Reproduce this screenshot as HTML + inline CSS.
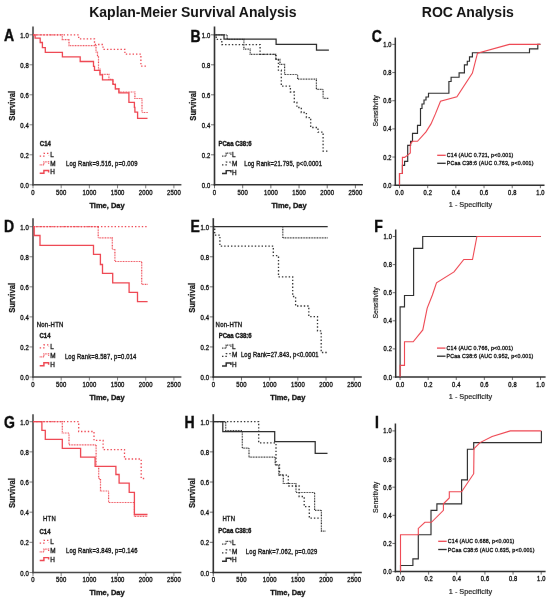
<!DOCTYPE html><html><head><meta charset="utf-8"><style>html,body{margin:0;padding:0;background:#fff;}svg{display:block;}text{font-family:"Liberation Sans", sans-serif;}</style></head><body>
<svg width="550" height="601" viewBox="0 0 550 601">
<defs><filter id="soft" x="0" y="0" width="550" height="601" filterUnits="userSpaceOnUse" color-interpolation-filters="sRGB"><feConvolveMatrix order="3" kernelMatrix="0.00027 0.01580 0.00027 0.01580 0.93575 0.01580 0.00027 0.01580 0.00027" edgeMode="duplicate" preserveAlpha="false"/></filter></defs>
<rect width="550" height="601" fill="#fff"/>
<g filter="url(#soft)">
<text transform="translate(192.80,11.90) scale(1,1.0)" x="0" y="5.01" font-size="14" font-weight="bold" text-anchor="middle" fill="#111" >Kaplan-Meier Survival Analysis</text>
<text transform="translate(467.80,12.20) scale(1,1.0)" x="0" y="5.01" font-size="14" font-weight="bold" text-anchor="middle" fill="#111" >ROC Analysis</text>
<text transform="translate(4.00,35.50) scale(1,1.14)" x="0" y="5.01" font-size="14" font-weight="bold" text-anchor="start" fill="#0a0a0a"  stroke="#0a0a0a" stroke-width="0.35">A</text>
<text transform="translate(190.40,35.90) scale(1,1.14)" x="0" y="5.01" font-size="14" font-weight="bold" text-anchor="start" fill="#0a0a0a"  stroke="#0a0a0a" stroke-width="0.35">B</text>
<text transform="translate(371.80,35.90) scale(1,1.14)" x="0" y="5.01" font-size="14" font-weight="bold" text-anchor="start" fill="#0a0a0a"  stroke="#0a0a0a" stroke-width="0.35">C</text>
<text transform="translate(4.00,226.40) scale(1,1.14)" x="0" y="5.01" font-size="14" font-weight="bold" text-anchor="start" fill="#0a0a0a"  stroke="#0a0a0a" stroke-width="0.35">D</text>
<text transform="translate(190.50,226.40) scale(1,1.14)" x="0" y="5.01" font-size="14" font-weight="bold" text-anchor="start" fill="#0a0a0a"  stroke="#0a0a0a" stroke-width="0.35">E</text>
<text transform="translate(374.20,226.40) scale(1,1.14)" x="0" y="5.01" font-size="14" font-weight="bold" text-anchor="start" fill="#0a0a0a"  stroke="#0a0a0a" stroke-width="0.35">F</text>
<text transform="translate(4.00,422.20) scale(1,1.14)" x="0" y="5.01" font-size="14" font-weight="bold" text-anchor="start" fill="#0a0a0a"  stroke="#0a0a0a" stroke-width="0.35">G</text>
<text transform="translate(184.40,421.90) scale(1,1.14)" x="0" y="5.01" font-size="14" font-weight="bold" text-anchor="start" fill="#0a0a0a"  stroke="#0a0a0a" stroke-width="0.35">H</text>
<text transform="translate(374.90,422.20) scale(1,1.14)" x="0" y="5.01" font-size="14" font-weight="bold" text-anchor="start" fill="#0a0a0a"  stroke="#0a0a0a" stroke-width="0.35">I</text>
<line x1="33.00" y1="26.50" x2="33.00" y2="185.55" stroke="#474747" stroke-width="1.6"/>
<line x1="32.20" y1="184.80" x2="181.40" y2="184.80" stroke="#474747" stroke-width="1.6"/>
<line x1="29.50" y1="184.80" x2="33.00" y2="184.80" stroke="#474747" stroke-width="0.7"/>
<text transform="translate(28.99,185.50) scale(1,1.1014448979591838)" x="0" y="2.13" font-size="5.936538461538461" font-weight="normal" text-anchor="end" fill="#111"  stroke="#111" stroke-width="0.3" letter-spacing="0.189">0.0</text>
<line x1="29.50" y1="154.80" x2="33.00" y2="154.80" stroke="#474747" stroke-width="0.7"/>
<text transform="translate(28.99,155.50) scale(1,1.1014448979591838)" x="0" y="2.13" font-size="5.936538461538461" font-weight="normal" text-anchor="end" fill="#111"  stroke="#111" stroke-width="0.3" letter-spacing="0.189">0.2</text>
<line x1="29.50" y1="124.80" x2="33.00" y2="124.80" stroke="#474747" stroke-width="0.7"/>
<text transform="translate(28.99,125.50) scale(1,1.1014448979591838)" x="0" y="2.13" font-size="5.936538461538461" font-weight="normal" text-anchor="end" fill="#111"  stroke="#111" stroke-width="0.3" letter-spacing="0.189">0.4</text>
<line x1="29.50" y1="94.80" x2="33.00" y2="94.80" stroke="#474747" stroke-width="0.7"/>
<text transform="translate(28.99,95.50) scale(1,1.1014448979591838)" x="0" y="2.13" font-size="5.936538461538461" font-weight="normal" text-anchor="end" fill="#111"  stroke="#111" stroke-width="0.3" letter-spacing="0.189">0.6</text>
<line x1="29.50" y1="64.80" x2="33.00" y2="64.80" stroke="#474747" stroke-width="0.7"/>
<text transform="translate(28.99,65.50) scale(1,1.1014448979591838)" x="0" y="2.13" font-size="5.936538461538461" font-weight="normal" text-anchor="end" fill="#111"  stroke="#111" stroke-width="0.3" letter-spacing="0.189">0.8</text>
<line x1="29.50" y1="34.80" x2="33.00" y2="34.80" stroke="#474747" stroke-width="0.7"/>
<text transform="translate(28.99,35.50) scale(1,1.1014448979591838)" x="0" y="2.13" font-size="5.936538461538461" font-weight="normal" text-anchor="end" fill="#111"  stroke="#111" stroke-width="0.3" letter-spacing="0.189">1.0</text>
<line x1="33.00" y1="184.80" x2="33.00" y2="188.30" stroke="#474747" stroke-width="0.7"/>
<text transform="translate(33.09,192.20) scale(1,1.1014448979591838)" x="0" y="2.13" font-size="5.936538461538461" font-weight="normal" text-anchor="middle" fill="#111"  stroke="#111" stroke-width="0.3" letter-spacing="0.189">0</text>
<line x1="61.18" y1="184.80" x2="61.18" y2="188.30" stroke="#474747" stroke-width="0.7"/>
<text transform="translate(61.27,192.20) scale(1,1.1014448979591838)" x="0" y="2.13" font-size="5.936538461538461" font-weight="normal" text-anchor="middle" fill="#111"  stroke="#111" stroke-width="0.3" letter-spacing="0.189">500</text>
<line x1="89.36" y1="184.80" x2="89.36" y2="188.30" stroke="#474747" stroke-width="0.7"/>
<text transform="translate(89.45,192.20) scale(1,1.1014448979591838)" x="0" y="2.13" font-size="5.936538461538461" font-weight="normal" text-anchor="middle" fill="#111"  stroke="#111" stroke-width="0.3" letter-spacing="0.189">1000</text>
<line x1="117.54" y1="184.80" x2="117.54" y2="188.30" stroke="#474747" stroke-width="0.7"/>
<text transform="translate(117.63,192.20) scale(1,1.1014448979591838)" x="0" y="2.13" font-size="5.936538461538461" font-weight="normal" text-anchor="middle" fill="#111"  stroke="#111" stroke-width="0.3" letter-spacing="0.189">1500</text>
<line x1="145.72" y1="184.80" x2="145.72" y2="188.30" stroke="#474747" stroke-width="0.7"/>
<text transform="translate(145.81,192.20) scale(1,1.1014448979591838)" x="0" y="2.13" font-size="5.936538461538461" font-weight="normal" text-anchor="middle" fill="#111"  stroke="#111" stroke-width="0.3" letter-spacing="0.189">2000</text>
<line x1="173.90" y1="184.80" x2="173.90" y2="188.30" stroke="#474747" stroke-width="0.7"/>
<text transform="translate(173.99,192.20) scale(1,1.1014448979591838)" x="0" y="2.13" font-size="5.936538461538461" font-weight="normal" text-anchor="middle" fill="#111"  stroke="#111" stroke-width="0.3" letter-spacing="0.189">2500</text>
<line x1="214.50" y1="26.50" x2="214.50" y2="185.55" stroke="#2e2e2e" stroke-width="1.6"/>
<line x1="213.70" y1="184.80" x2="363.00" y2="184.80" stroke="#2e2e2e" stroke-width="1.6"/>
<line x1="211.00" y1="184.80" x2="214.50" y2="184.80" stroke="#2e2e2e" stroke-width="0.7"/>
<text transform="translate(210.49,185.50) scale(1,1.1014448979591838)" x="0" y="2.13" font-size="5.936538461538461" font-weight="normal" text-anchor="end" fill="#111"  stroke="#111" stroke-width="0.3" letter-spacing="0.189">0.0</text>
<line x1="211.00" y1="154.80" x2="214.50" y2="154.80" stroke="#2e2e2e" stroke-width="0.7"/>
<text transform="translate(210.49,155.50) scale(1,1.1014448979591838)" x="0" y="2.13" font-size="5.936538461538461" font-weight="normal" text-anchor="end" fill="#111"  stroke="#111" stroke-width="0.3" letter-spacing="0.189">0.2</text>
<line x1="211.00" y1="124.80" x2="214.50" y2="124.80" stroke="#2e2e2e" stroke-width="0.7"/>
<text transform="translate(210.49,125.50) scale(1,1.1014448979591838)" x="0" y="2.13" font-size="5.936538461538461" font-weight="normal" text-anchor="end" fill="#111"  stroke="#111" stroke-width="0.3" letter-spacing="0.189">0.4</text>
<line x1="211.00" y1="94.80" x2="214.50" y2="94.80" stroke="#2e2e2e" stroke-width="0.7"/>
<text transform="translate(210.49,95.50) scale(1,1.1014448979591838)" x="0" y="2.13" font-size="5.936538461538461" font-weight="normal" text-anchor="end" fill="#111"  stroke="#111" stroke-width="0.3" letter-spacing="0.189">0.6</text>
<line x1="211.00" y1="64.80" x2="214.50" y2="64.80" stroke="#2e2e2e" stroke-width="0.7"/>
<text transform="translate(210.49,65.50) scale(1,1.1014448979591838)" x="0" y="2.13" font-size="5.936538461538461" font-weight="normal" text-anchor="end" fill="#111"  stroke="#111" stroke-width="0.3" letter-spacing="0.189">0.8</text>
<line x1="211.00" y1="34.80" x2="214.50" y2="34.80" stroke="#2e2e2e" stroke-width="0.7"/>
<text transform="translate(210.49,35.50) scale(1,1.1014448979591838)" x="0" y="2.13" font-size="5.936538461538461" font-weight="normal" text-anchor="end" fill="#111"  stroke="#111" stroke-width="0.3" letter-spacing="0.189">1.0</text>
<line x1="214.50" y1="184.80" x2="214.50" y2="188.30" stroke="#2e2e2e" stroke-width="0.7"/>
<text transform="translate(214.59,192.20) scale(1,1.1014448979591838)" x="0" y="2.13" font-size="5.936538461538461" font-weight="normal" text-anchor="middle" fill="#111"  stroke="#111" stroke-width="0.3" letter-spacing="0.189">0</text>
<line x1="242.68" y1="184.80" x2="242.68" y2="188.30" stroke="#2e2e2e" stroke-width="0.7"/>
<text transform="translate(242.77,192.20) scale(1,1.1014448979591838)" x="0" y="2.13" font-size="5.936538461538461" font-weight="normal" text-anchor="middle" fill="#111"  stroke="#111" stroke-width="0.3" letter-spacing="0.189">500</text>
<line x1="270.86" y1="184.80" x2="270.86" y2="188.30" stroke="#2e2e2e" stroke-width="0.7"/>
<text transform="translate(270.95,192.20) scale(1,1.1014448979591838)" x="0" y="2.13" font-size="5.936538461538461" font-weight="normal" text-anchor="middle" fill="#111"  stroke="#111" stroke-width="0.3" letter-spacing="0.189">1000</text>
<line x1="299.04" y1="184.80" x2="299.04" y2="188.30" stroke="#2e2e2e" stroke-width="0.7"/>
<text transform="translate(299.13,192.20) scale(1,1.1014448979591838)" x="0" y="2.13" font-size="5.936538461538461" font-weight="normal" text-anchor="middle" fill="#111"  stroke="#111" stroke-width="0.3" letter-spacing="0.189">1500</text>
<line x1="327.22" y1="184.80" x2="327.22" y2="188.30" stroke="#2e2e2e" stroke-width="0.7"/>
<text transform="translate(327.31,192.20) scale(1,1.1014448979591838)" x="0" y="2.13" font-size="5.936538461538461" font-weight="normal" text-anchor="middle" fill="#111"  stroke="#111" stroke-width="0.3" letter-spacing="0.189">2000</text>
<line x1="355.40" y1="184.80" x2="355.40" y2="188.30" stroke="#2e2e2e" stroke-width="0.7"/>
<text transform="translate(355.49,192.20) scale(1,1.1014448979591838)" x="0" y="2.13" font-size="5.936538461538461" font-weight="normal" text-anchor="middle" fill="#111"  stroke="#111" stroke-width="0.3" letter-spacing="0.189">2500</text>
<text transform="translate(12.20,105.80) rotate(-90) scale(1,1.15)" x="0" y="2.76" font-size="7.7" font-weight="bold" text-anchor="middle" fill="#111"  stroke="#111" stroke-width="0.2">Survival</text>
<text transform="translate(193.00,105.80) rotate(-90) scale(1,1.15)" x="0" y="2.76" font-size="7.7" font-weight="bold" text-anchor="middle" fill="#111"  stroke="#111" stroke-width="0.2">Survival</text>
<text transform="translate(107.00,204.80) scale(1,1.07)" x="0" y="2.69" font-size="7.5" font-weight="bold" text-anchor="middle" fill="#111"  stroke="#111" stroke-width="0.3">Time, Day</text>
<text transform="translate(289.00,204.80) scale(1,1.07)" x="0" y="2.69" font-size="7.5" font-weight="bold" text-anchor="middle" fill="#111"  stroke="#111" stroke-width="0.3">Time, Day</text>
<line x1="33.00" y1="218.20" x2="33.00" y2="377.75" stroke="#474747" stroke-width="1.6"/>
<line x1="32.20" y1="377.00" x2="181.40" y2="377.00" stroke="#474747" stroke-width="1.6"/>
<line x1="29.50" y1="377.00" x2="33.00" y2="377.00" stroke="#474747" stroke-width="0.7"/>
<text transform="translate(28.99,377.70) scale(1,1.1014448979591838)" x="0" y="2.13" font-size="5.936538461538461" font-weight="normal" text-anchor="end" fill="#111"  stroke="#111" stroke-width="0.3" letter-spacing="0.189">0.0</text>
<line x1="29.50" y1="346.94" x2="33.00" y2="346.94" stroke="#474747" stroke-width="0.7"/>
<text transform="translate(28.99,347.64) scale(1,1.1014448979591838)" x="0" y="2.13" font-size="5.936538461538461" font-weight="normal" text-anchor="end" fill="#111"  stroke="#111" stroke-width="0.3" letter-spacing="0.189">0.2</text>
<line x1="29.50" y1="316.88" x2="33.00" y2="316.88" stroke="#474747" stroke-width="0.7"/>
<text transform="translate(28.99,317.58) scale(1,1.1014448979591838)" x="0" y="2.13" font-size="5.936538461538461" font-weight="normal" text-anchor="end" fill="#111"  stroke="#111" stroke-width="0.3" letter-spacing="0.189">0.4</text>
<line x1="29.50" y1="286.82" x2="33.00" y2="286.82" stroke="#474747" stroke-width="0.7"/>
<text transform="translate(28.99,287.52) scale(1,1.1014448979591838)" x="0" y="2.13" font-size="5.936538461538461" font-weight="normal" text-anchor="end" fill="#111"  stroke="#111" stroke-width="0.3" letter-spacing="0.189">0.6</text>
<line x1="29.50" y1="256.76" x2="33.00" y2="256.76" stroke="#474747" stroke-width="0.7"/>
<text transform="translate(28.99,257.46) scale(1,1.1014448979591838)" x="0" y="2.13" font-size="5.936538461538461" font-weight="normal" text-anchor="end" fill="#111"  stroke="#111" stroke-width="0.3" letter-spacing="0.189">0.8</text>
<line x1="29.50" y1="226.70" x2="33.00" y2="226.70" stroke="#474747" stroke-width="0.7"/>
<text transform="translate(28.99,227.40) scale(1,1.1014448979591838)" x="0" y="2.13" font-size="5.936538461538461" font-weight="normal" text-anchor="end" fill="#111"  stroke="#111" stroke-width="0.3" letter-spacing="0.189">1.0</text>
<line x1="33.00" y1="377.00" x2="33.00" y2="380.50" stroke="#474747" stroke-width="0.7"/>
<text transform="translate(33.09,384.40) scale(1,1.1014448979591838)" x="0" y="2.13" font-size="5.936538461538461" font-weight="normal" text-anchor="middle" fill="#111"  stroke="#111" stroke-width="0.3" letter-spacing="0.189">0</text>
<line x1="61.18" y1="377.00" x2="61.18" y2="380.50" stroke="#474747" stroke-width="0.7"/>
<text transform="translate(61.27,384.40) scale(1,1.1014448979591838)" x="0" y="2.13" font-size="5.936538461538461" font-weight="normal" text-anchor="middle" fill="#111"  stroke="#111" stroke-width="0.3" letter-spacing="0.189">500</text>
<line x1="89.36" y1="377.00" x2="89.36" y2="380.50" stroke="#474747" stroke-width="0.7"/>
<text transform="translate(89.45,384.40) scale(1,1.1014448979591838)" x="0" y="2.13" font-size="5.936538461538461" font-weight="normal" text-anchor="middle" fill="#111"  stroke="#111" stroke-width="0.3" letter-spacing="0.189">1000</text>
<line x1="117.54" y1="377.00" x2="117.54" y2="380.50" stroke="#474747" stroke-width="0.7"/>
<text transform="translate(117.63,384.40) scale(1,1.1014448979591838)" x="0" y="2.13" font-size="5.936538461538461" font-weight="normal" text-anchor="middle" fill="#111"  stroke="#111" stroke-width="0.3" letter-spacing="0.189">1500</text>
<line x1="145.72" y1="377.00" x2="145.72" y2="380.50" stroke="#474747" stroke-width="0.7"/>
<text transform="translate(145.81,384.40) scale(1,1.1014448979591838)" x="0" y="2.13" font-size="5.936538461538461" font-weight="normal" text-anchor="middle" fill="#111"  stroke="#111" stroke-width="0.3" letter-spacing="0.189">2000</text>
<line x1="173.90" y1="377.00" x2="173.90" y2="380.50" stroke="#474747" stroke-width="0.7"/>
<text transform="translate(173.99,384.40) scale(1,1.1014448979591838)" x="0" y="2.13" font-size="5.936538461538461" font-weight="normal" text-anchor="middle" fill="#111"  stroke="#111" stroke-width="0.3" letter-spacing="0.189">2500</text>
<line x1="213.30" y1="218.20" x2="213.30" y2="377.75" stroke="#2e2e2e" stroke-width="1.6"/>
<line x1="212.50" y1="377.00" x2="361.80" y2="377.00" stroke="#2e2e2e" stroke-width="1.6"/>
<line x1="209.80" y1="377.00" x2="213.30" y2="377.00" stroke="#2e2e2e" stroke-width="0.7"/>
<text transform="translate(209.29,377.70) scale(1,1.1014448979591838)" x="0" y="2.13" font-size="5.936538461538461" font-weight="normal" text-anchor="end" fill="#111"  stroke="#111" stroke-width="0.3" letter-spacing="0.189">0.0</text>
<line x1="209.80" y1="346.94" x2="213.30" y2="346.94" stroke="#2e2e2e" stroke-width="0.7"/>
<text transform="translate(209.29,347.64) scale(1,1.1014448979591838)" x="0" y="2.13" font-size="5.936538461538461" font-weight="normal" text-anchor="end" fill="#111"  stroke="#111" stroke-width="0.3" letter-spacing="0.189">0.2</text>
<line x1="209.80" y1="316.88" x2="213.30" y2="316.88" stroke="#2e2e2e" stroke-width="0.7"/>
<text transform="translate(209.29,317.58) scale(1,1.1014448979591838)" x="0" y="2.13" font-size="5.936538461538461" font-weight="normal" text-anchor="end" fill="#111"  stroke="#111" stroke-width="0.3" letter-spacing="0.189">0.4</text>
<line x1="209.80" y1="286.82" x2="213.30" y2="286.82" stroke="#2e2e2e" stroke-width="0.7"/>
<text transform="translate(209.29,287.52) scale(1,1.1014448979591838)" x="0" y="2.13" font-size="5.936538461538461" font-weight="normal" text-anchor="end" fill="#111"  stroke="#111" stroke-width="0.3" letter-spacing="0.189">0.6</text>
<line x1="209.80" y1="256.76" x2="213.30" y2="256.76" stroke="#2e2e2e" stroke-width="0.7"/>
<text transform="translate(209.29,257.46) scale(1,1.1014448979591838)" x="0" y="2.13" font-size="5.936538461538461" font-weight="normal" text-anchor="end" fill="#111"  stroke="#111" stroke-width="0.3" letter-spacing="0.189">0.8</text>
<line x1="209.80" y1="226.70" x2="213.30" y2="226.70" stroke="#2e2e2e" stroke-width="0.7"/>
<text transform="translate(209.29,227.40) scale(1,1.1014448979591838)" x="0" y="2.13" font-size="5.936538461538461" font-weight="normal" text-anchor="end" fill="#111"  stroke="#111" stroke-width="0.3" letter-spacing="0.189">1.0</text>
<line x1="213.30" y1="377.00" x2="213.30" y2="380.50" stroke="#2e2e2e" stroke-width="0.7"/>
<text transform="translate(213.39,384.40) scale(1,1.1014448979591838)" x="0" y="2.13" font-size="5.936538461538461" font-weight="normal" text-anchor="middle" fill="#111"  stroke="#111" stroke-width="0.3" letter-spacing="0.189">0</text>
<line x1="241.48" y1="377.00" x2="241.48" y2="380.50" stroke="#2e2e2e" stroke-width="0.7"/>
<text transform="translate(241.57,384.40) scale(1,1.1014448979591838)" x="0" y="2.13" font-size="5.936538461538461" font-weight="normal" text-anchor="middle" fill="#111"  stroke="#111" stroke-width="0.3" letter-spacing="0.189">500</text>
<line x1="269.66" y1="377.00" x2="269.66" y2="380.50" stroke="#2e2e2e" stroke-width="0.7"/>
<text transform="translate(269.75,384.40) scale(1,1.1014448979591838)" x="0" y="2.13" font-size="5.936538461538461" font-weight="normal" text-anchor="middle" fill="#111"  stroke="#111" stroke-width="0.3" letter-spacing="0.189">1000</text>
<line x1="297.84" y1="377.00" x2="297.84" y2="380.50" stroke="#2e2e2e" stroke-width="0.7"/>
<text transform="translate(297.93,384.40) scale(1,1.1014448979591838)" x="0" y="2.13" font-size="5.936538461538461" font-weight="normal" text-anchor="middle" fill="#111"  stroke="#111" stroke-width="0.3" letter-spacing="0.189">1500</text>
<line x1="326.02" y1="377.00" x2="326.02" y2="380.50" stroke="#2e2e2e" stroke-width="0.7"/>
<text transform="translate(326.11,384.40) scale(1,1.1014448979591838)" x="0" y="2.13" font-size="5.936538461538461" font-weight="normal" text-anchor="middle" fill="#111"  stroke="#111" stroke-width="0.3" letter-spacing="0.189">2000</text>
<line x1="354.20" y1="377.00" x2="354.20" y2="380.50" stroke="#2e2e2e" stroke-width="0.7"/>
<text transform="translate(354.29,384.40) scale(1,1.1014448979591838)" x="0" y="2.13" font-size="5.936538461538461" font-weight="normal" text-anchor="middle" fill="#111"  stroke="#111" stroke-width="0.3" letter-spacing="0.189">2500</text>
<text transform="translate(12.20,297.85) rotate(-90) scale(1,1.15)" x="0" y="2.76" font-size="7.7" font-weight="bold" text-anchor="middle" fill="#111"  stroke="#111" stroke-width="0.2">Survival</text>
<text transform="translate(191.80,297.85) rotate(-90) scale(1,1.15)" x="0" y="2.76" font-size="7.7" font-weight="bold" text-anchor="middle" fill="#111"  stroke="#111" stroke-width="0.2">Survival</text>
<text transform="translate(107.00,397.00) scale(1,1.07)" x="0" y="2.69" font-size="7.5" font-weight="bold" text-anchor="middle" fill="#111"  stroke="#111" stroke-width="0.3">Time, Day</text>
<text transform="translate(287.80,397.00) scale(1,1.07)" x="0" y="2.69" font-size="7.5" font-weight="bold" text-anchor="middle" fill="#111"  stroke="#111" stroke-width="0.3">Time, Day</text>
<line x1="33.00" y1="414.20" x2="33.00" y2="573.25" stroke="#474747" stroke-width="1.6"/>
<line x1="32.20" y1="572.50" x2="181.40" y2="572.50" stroke="#474747" stroke-width="1.6"/>
<line x1="29.50" y1="572.50" x2="33.00" y2="572.50" stroke="#474747" stroke-width="0.7"/>
<text transform="translate(28.99,573.20) scale(1,1.1014448979591838)" x="0" y="2.13" font-size="5.936538461538461" font-weight="normal" text-anchor="end" fill="#111"  stroke="#111" stroke-width="0.3" letter-spacing="0.189">0.0</text>
<line x1="29.50" y1="542.34" x2="33.00" y2="542.34" stroke="#474747" stroke-width="0.7"/>
<text transform="translate(28.99,543.04) scale(1,1.1014448979591838)" x="0" y="2.13" font-size="5.936538461538461" font-weight="normal" text-anchor="end" fill="#111"  stroke="#111" stroke-width="0.3" letter-spacing="0.189">0.2</text>
<line x1="29.50" y1="512.18" x2="33.00" y2="512.18" stroke="#474747" stroke-width="0.7"/>
<text transform="translate(28.99,512.88) scale(1,1.1014448979591838)" x="0" y="2.13" font-size="5.936538461538461" font-weight="normal" text-anchor="end" fill="#111"  stroke="#111" stroke-width="0.3" letter-spacing="0.189">0.4</text>
<line x1="29.50" y1="482.02" x2="33.00" y2="482.02" stroke="#474747" stroke-width="0.7"/>
<text transform="translate(28.99,482.72) scale(1,1.1014448979591838)" x="0" y="2.13" font-size="5.936538461538461" font-weight="normal" text-anchor="end" fill="#111"  stroke="#111" stroke-width="0.3" letter-spacing="0.189">0.6</text>
<line x1="29.50" y1="451.86" x2="33.00" y2="451.86" stroke="#474747" stroke-width="0.7"/>
<text transform="translate(28.99,452.56) scale(1,1.1014448979591838)" x="0" y="2.13" font-size="5.936538461538461" font-weight="normal" text-anchor="end" fill="#111"  stroke="#111" stroke-width="0.3" letter-spacing="0.189">0.8</text>
<line x1="29.50" y1="421.70" x2="33.00" y2="421.70" stroke="#474747" stroke-width="0.7"/>
<text transform="translate(28.99,422.40) scale(1,1.1014448979591838)" x="0" y="2.13" font-size="5.936538461538461" font-weight="normal" text-anchor="end" fill="#111"  stroke="#111" stroke-width="0.3" letter-spacing="0.189">1.0</text>
<line x1="33.00" y1="572.50" x2="33.00" y2="576.00" stroke="#474747" stroke-width="0.7"/>
<text transform="translate(33.09,579.90) scale(1,1.1014448979591838)" x="0" y="2.13" font-size="5.936538461538461" font-weight="normal" text-anchor="middle" fill="#111"  stroke="#111" stroke-width="0.3" letter-spacing="0.189">0</text>
<line x1="61.18" y1="572.50" x2="61.18" y2="576.00" stroke="#474747" stroke-width="0.7"/>
<text transform="translate(61.27,579.90) scale(1,1.1014448979591838)" x="0" y="2.13" font-size="5.936538461538461" font-weight="normal" text-anchor="middle" fill="#111"  stroke="#111" stroke-width="0.3" letter-spacing="0.189">500</text>
<line x1="89.36" y1="572.50" x2="89.36" y2="576.00" stroke="#474747" stroke-width="0.7"/>
<text transform="translate(89.45,579.90) scale(1,1.1014448979591838)" x="0" y="2.13" font-size="5.936538461538461" font-weight="normal" text-anchor="middle" fill="#111"  stroke="#111" stroke-width="0.3" letter-spacing="0.189">1000</text>
<line x1="117.54" y1="572.50" x2="117.54" y2="576.00" stroke="#474747" stroke-width="0.7"/>
<text transform="translate(117.63,579.90) scale(1,1.1014448979591838)" x="0" y="2.13" font-size="5.936538461538461" font-weight="normal" text-anchor="middle" fill="#111"  stroke="#111" stroke-width="0.3" letter-spacing="0.189">1500</text>
<line x1="145.72" y1="572.50" x2="145.72" y2="576.00" stroke="#474747" stroke-width="0.7"/>
<text transform="translate(145.81,579.90) scale(1,1.1014448979591838)" x="0" y="2.13" font-size="5.936538461538461" font-weight="normal" text-anchor="middle" fill="#111"  stroke="#111" stroke-width="0.3" letter-spacing="0.189">2000</text>
<line x1="173.90" y1="572.50" x2="173.90" y2="576.00" stroke="#474747" stroke-width="0.7"/>
<text transform="translate(173.99,579.90) scale(1,1.1014448979591838)" x="0" y="2.13" font-size="5.936538461538461" font-weight="normal" text-anchor="middle" fill="#111"  stroke="#111" stroke-width="0.3" letter-spacing="0.189">2500</text>
<line x1="213.30" y1="414.20" x2="213.30" y2="573.25" stroke="#2e2e2e" stroke-width="1.6"/>
<line x1="212.50" y1="572.50" x2="361.80" y2="572.50" stroke="#2e2e2e" stroke-width="1.6"/>
<line x1="209.80" y1="572.50" x2="213.30" y2="572.50" stroke="#2e2e2e" stroke-width="0.7"/>
<text transform="translate(209.29,573.20) scale(1,1.1014448979591838)" x="0" y="2.13" font-size="5.936538461538461" font-weight="normal" text-anchor="end" fill="#111"  stroke="#111" stroke-width="0.3" letter-spacing="0.189">0.0</text>
<line x1="209.80" y1="542.34" x2="213.30" y2="542.34" stroke="#2e2e2e" stroke-width="0.7"/>
<text transform="translate(209.29,543.04) scale(1,1.1014448979591838)" x="0" y="2.13" font-size="5.936538461538461" font-weight="normal" text-anchor="end" fill="#111"  stroke="#111" stroke-width="0.3" letter-spacing="0.189">0.2</text>
<line x1="209.80" y1="512.18" x2="213.30" y2="512.18" stroke="#2e2e2e" stroke-width="0.7"/>
<text transform="translate(209.29,512.88) scale(1,1.1014448979591838)" x="0" y="2.13" font-size="5.936538461538461" font-weight="normal" text-anchor="end" fill="#111"  stroke="#111" stroke-width="0.3" letter-spacing="0.189">0.4</text>
<line x1="209.80" y1="482.02" x2="213.30" y2="482.02" stroke="#2e2e2e" stroke-width="0.7"/>
<text transform="translate(209.29,482.72) scale(1,1.1014448979591838)" x="0" y="2.13" font-size="5.936538461538461" font-weight="normal" text-anchor="end" fill="#111"  stroke="#111" stroke-width="0.3" letter-spacing="0.189">0.6</text>
<line x1="209.80" y1="451.86" x2="213.30" y2="451.86" stroke="#2e2e2e" stroke-width="0.7"/>
<text transform="translate(209.29,452.56) scale(1,1.1014448979591838)" x="0" y="2.13" font-size="5.936538461538461" font-weight="normal" text-anchor="end" fill="#111"  stroke="#111" stroke-width="0.3" letter-spacing="0.189">0.8</text>
<line x1="209.80" y1="421.70" x2="213.30" y2="421.70" stroke="#2e2e2e" stroke-width="0.7"/>
<text transform="translate(209.29,422.40) scale(1,1.1014448979591838)" x="0" y="2.13" font-size="5.936538461538461" font-weight="normal" text-anchor="end" fill="#111"  stroke="#111" stroke-width="0.3" letter-spacing="0.189">1.0</text>
<line x1="213.30" y1="572.50" x2="213.30" y2="576.00" stroke="#2e2e2e" stroke-width="0.7"/>
<text transform="translate(213.39,579.90) scale(1,1.1014448979591838)" x="0" y="2.13" font-size="5.936538461538461" font-weight="normal" text-anchor="middle" fill="#111"  stroke="#111" stroke-width="0.3" letter-spacing="0.189">0</text>
<line x1="241.48" y1="572.50" x2="241.48" y2="576.00" stroke="#2e2e2e" stroke-width="0.7"/>
<text transform="translate(241.57,579.90) scale(1,1.1014448979591838)" x="0" y="2.13" font-size="5.936538461538461" font-weight="normal" text-anchor="middle" fill="#111"  stroke="#111" stroke-width="0.3" letter-spacing="0.189">500</text>
<line x1="269.66" y1="572.50" x2="269.66" y2="576.00" stroke="#2e2e2e" stroke-width="0.7"/>
<text transform="translate(269.75,579.90) scale(1,1.1014448979591838)" x="0" y="2.13" font-size="5.936538461538461" font-weight="normal" text-anchor="middle" fill="#111"  stroke="#111" stroke-width="0.3" letter-spacing="0.189">1000</text>
<line x1="297.84" y1="572.50" x2="297.84" y2="576.00" stroke="#2e2e2e" stroke-width="0.7"/>
<text transform="translate(297.93,579.90) scale(1,1.1014448979591838)" x="0" y="2.13" font-size="5.936538461538461" font-weight="normal" text-anchor="middle" fill="#111"  stroke="#111" stroke-width="0.3" letter-spacing="0.189">1500</text>
<line x1="326.02" y1="572.50" x2="326.02" y2="576.00" stroke="#2e2e2e" stroke-width="0.7"/>
<text transform="translate(326.11,579.90) scale(1,1.1014448979591838)" x="0" y="2.13" font-size="5.936538461538461" font-weight="normal" text-anchor="middle" fill="#111"  stroke="#111" stroke-width="0.3" letter-spacing="0.189">2000</text>
<line x1="354.20" y1="572.50" x2="354.20" y2="576.00" stroke="#2e2e2e" stroke-width="0.7"/>
<text transform="translate(354.29,579.90) scale(1,1.1014448979591838)" x="0" y="2.13" font-size="5.936538461538461" font-weight="normal" text-anchor="middle" fill="#111"  stroke="#111" stroke-width="0.3" letter-spacing="0.189">2500</text>
<text transform="translate(12.20,493.10) rotate(-90) scale(1,1.15)" x="0" y="2.76" font-size="7.7" font-weight="bold" text-anchor="middle" fill="#111"  stroke="#111" stroke-width="0.2">Survival</text>
<text transform="translate(191.80,493.10) rotate(-90) scale(1,1.15)" x="0" y="2.76" font-size="7.7" font-weight="bold" text-anchor="middle" fill="#111"  stroke="#111" stroke-width="0.2">Survival</text>
<text transform="translate(107.00,592.50) scale(1,1.07)" x="0" y="2.69" font-size="7.5" font-weight="bold" text-anchor="middle" fill="#111"  stroke="#111" stroke-width="0.3">Time, Day</text>
<text transform="translate(287.80,592.50) scale(1,1.07)" x="0" y="2.69" font-size="7.5" font-weight="bold" text-anchor="middle" fill="#111"  stroke="#111" stroke-width="0.3">Time, Day</text>
<line x1="395.30" y1="37.60" x2="395.30" y2="185.95" stroke="#2e2e2e" stroke-width="1.5"/>
<line x1="394.55" y1="185.20" x2="544.50" y2="185.20" stroke="#2e2e2e" stroke-width="1.5"/>
<line x1="392.30" y1="185.20" x2="395.30" y2="185.20" stroke="#2e2e2e" stroke-width="0.7"/>
<text transform="translate(391.68,185.50) scale(1,1.1014448979591838)" x="0" y="2.06" font-size="5.748076923076923" font-weight="normal" text-anchor="end" fill="#111"  stroke="#111" stroke-width="0.3" letter-spacing="0.183">0.0</text>
<line x1="399.50" y1="185.20" x2="399.50" y2="188.20" stroke="#2e2e2e" stroke-width="0.7"/>
<text transform="translate(399.59,192.60) scale(1,1.1014448979591838)" x="0" y="2.06" font-size="5.748076923076923" font-weight="normal" text-anchor="middle" fill="#111"  stroke="#111" stroke-width="0.3" letter-spacing="0.183">0.0</text>
<line x1="392.30" y1="157.04" x2="395.30" y2="157.04" stroke="#2e2e2e" stroke-width="0.7"/>
<text transform="translate(391.68,157.34) scale(1,1.1014448979591838)" x="0" y="2.06" font-size="5.748076923076923" font-weight="normal" text-anchor="end" fill="#111"  stroke="#111" stroke-width="0.3" letter-spacing="0.183">0.2</text>
<line x1="427.68" y1="185.20" x2="427.68" y2="188.20" stroke="#2e2e2e" stroke-width="0.7"/>
<text transform="translate(427.77,192.60) scale(1,1.1014448979591838)" x="0" y="2.06" font-size="5.748076923076923" font-weight="normal" text-anchor="middle" fill="#111"  stroke="#111" stroke-width="0.3" letter-spacing="0.183">0.2</text>
<line x1="392.30" y1="128.88" x2="395.30" y2="128.88" stroke="#2e2e2e" stroke-width="0.7"/>
<text transform="translate(391.68,129.18) scale(1,1.1014448979591838)" x="0" y="2.06" font-size="5.748076923076923" font-weight="normal" text-anchor="end" fill="#111"  stroke="#111" stroke-width="0.3" letter-spacing="0.183">0.4</text>
<line x1="455.86" y1="185.20" x2="455.86" y2="188.20" stroke="#2e2e2e" stroke-width="0.7"/>
<text transform="translate(455.95,192.60) scale(1,1.1014448979591838)" x="0" y="2.06" font-size="5.748076923076923" font-weight="normal" text-anchor="middle" fill="#111"  stroke="#111" stroke-width="0.3" letter-spacing="0.183">0.4</text>
<line x1="392.30" y1="100.72" x2="395.30" y2="100.72" stroke="#2e2e2e" stroke-width="0.7"/>
<text transform="translate(391.68,101.02) scale(1,1.1014448979591838)" x="0" y="2.06" font-size="5.748076923076923" font-weight="normal" text-anchor="end" fill="#111"  stroke="#111" stroke-width="0.3" letter-spacing="0.183">0.6</text>
<line x1="484.04" y1="185.20" x2="484.04" y2="188.20" stroke="#2e2e2e" stroke-width="0.7"/>
<text transform="translate(484.13,192.60) scale(1,1.1014448979591838)" x="0" y="2.06" font-size="5.748076923076923" font-weight="normal" text-anchor="middle" fill="#111"  stroke="#111" stroke-width="0.3" letter-spacing="0.183">0.6</text>
<line x1="392.30" y1="72.56" x2="395.30" y2="72.56" stroke="#2e2e2e" stroke-width="0.7"/>
<text transform="translate(391.68,72.86) scale(1,1.1014448979591838)" x="0" y="2.06" font-size="5.748076923076923" font-weight="normal" text-anchor="end" fill="#111"  stroke="#111" stroke-width="0.3" letter-spacing="0.183">0.8</text>
<line x1="512.22" y1="185.20" x2="512.22" y2="188.20" stroke="#2e2e2e" stroke-width="0.7"/>
<text transform="translate(512.31,192.60) scale(1,1.1014448979591838)" x="0" y="2.06" font-size="5.748076923076923" font-weight="normal" text-anchor="middle" fill="#111"  stroke="#111" stroke-width="0.3" letter-spacing="0.183">0.8</text>
<line x1="392.30" y1="44.40" x2="395.30" y2="44.40" stroke="#2e2e2e" stroke-width="0.7"/>
<text transform="translate(391.68,44.70) scale(1,1.1014448979591838)" x="0" y="2.06" font-size="5.748076923076923" font-weight="normal" text-anchor="end" fill="#111"  stroke="#111" stroke-width="0.3" letter-spacing="0.183">1.0</text>
<line x1="540.40" y1="185.20" x2="540.40" y2="188.20" stroke="#2e2e2e" stroke-width="0.7"/>
<text transform="translate(540.49,192.60) scale(1,1.1014448979591838)" x="0" y="2.06" font-size="5.748076923076923" font-weight="normal" text-anchor="middle" fill="#111"  stroke="#111" stroke-width="0.3" letter-spacing="0.183">1.0</text>
<text transform="translate(375.50,110.90) rotate(-90) scale(1,1.05)" x="0" y="2.51" font-size="7" font-weight="normal" text-anchor="middle" fill="#111"  stroke="#111" stroke-width="0.15">Sensitivity</text>
<text transform="translate(470.50,204.80) scale(1,1.0)" x="0" y="2.61" font-size="7.3" font-weight="normal" text-anchor="middle" fill="#111"  stroke="#111" stroke-width="0.15">1 - Specificity</text>
<line x1="395.70" y1="229.50" x2="395.70" y2="377.75" stroke="#2e2e2e" stroke-width="1.5"/>
<line x1="394.95" y1="377.00" x2="545.60" y2="377.00" stroke="#2e2e2e" stroke-width="1.5"/>
<line x1="392.70" y1="377.00" x2="395.70" y2="377.00" stroke="#2e2e2e" stroke-width="0.7"/>
<text transform="translate(392.08,377.30) scale(1,1.1014448979591838)" x="0" y="2.06" font-size="5.748076923076923" font-weight="normal" text-anchor="end" fill="#111"  stroke="#111" stroke-width="0.3" letter-spacing="0.183">0.0</text>
<line x1="400.10" y1="377.00" x2="400.10" y2="380.00" stroke="#2e2e2e" stroke-width="0.7"/>
<text transform="translate(400.19,384.40) scale(1,1.1014448979591838)" x="0" y="2.06" font-size="5.748076923076923" font-weight="normal" text-anchor="middle" fill="#111"  stroke="#111" stroke-width="0.3" letter-spacing="0.183">0.0</text>
<line x1="392.70" y1="348.90" x2="395.70" y2="348.90" stroke="#2e2e2e" stroke-width="0.7"/>
<text transform="translate(392.08,349.20) scale(1,1.1014448979591838)" x="0" y="2.06" font-size="5.748076923076923" font-weight="normal" text-anchor="end" fill="#111"  stroke="#111" stroke-width="0.3" letter-spacing="0.183">0.2</text>
<line x1="428.18" y1="377.00" x2="428.18" y2="380.00" stroke="#2e2e2e" stroke-width="0.7"/>
<text transform="translate(428.27,384.40) scale(1,1.1014448979591838)" x="0" y="2.06" font-size="5.748076923076923" font-weight="normal" text-anchor="middle" fill="#111"  stroke="#111" stroke-width="0.3" letter-spacing="0.183">0.2</text>
<line x1="392.70" y1="320.80" x2="395.70" y2="320.80" stroke="#2e2e2e" stroke-width="0.7"/>
<text transform="translate(392.08,321.10) scale(1,1.1014448979591838)" x="0" y="2.06" font-size="5.748076923076923" font-weight="normal" text-anchor="end" fill="#111"  stroke="#111" stroke-width="0.3" letter-spacing="0.183">0.4</text>
<line x1="456.26" y1="377.00" x2="456.26" y2="380.00" stroke="#2e2e2e" stroke-width="0.7"/>
<text transform="translate(456.35,384.40) scale(1,1.1014448979591838)" x="0" y="2.06" font-size="5.748076923076923" font-weight="normal" text-anchor="middle" fill="#111"  stroke="#111" stroke-width="0.3" letter-spacing="0.183">0.4</text>
<line x1="392.70" y1="292.70" x2="395.70" y2="292.70" stroke="#2e2e2e" stroke-width="0.7"/>
<text transform="translate(392.08,293.00) scale(1,1.1014448979591838)" x="0" y="2.06" font-size="5.748076923076923" font-weight="normal" text-anchor="end" fill="#111"  stroke="#111" stroke-width="0.3" letter-spacing="0.183">0.6</text>
<line x1="484.34" y1="377.00" x2="484.34" y2="380.00" stroke="#2e2e2e" stroke-width="0.7"/>
<text transform="translate(484.43,384.40) scale(1,1.1014448979591838)" x="0" y="2.06" font-size="5.748076923076923" font-weight="normal" text-anchor="middle" fill="#111"  stroke="#111" stroke-width="0.3" letter-spacing="0.183">0.6</text>
<line x1="392.70" y1="264.60" x2="395.70" y2="264.60" stroke="#2e2e2e" stroke-width="0.7"/>
<text transform="translate(392.08,264.90) scale(1,1.1014448979591838)" x="0" y="2.06" font-size="5.748076923076923" font-weight="normal" text-anchor="end" fill="#111"  stroke="#111" stroke-width="0.3" letter-spacing="0.183">0.8</text>
<line x1="512.42" y1="377.00" x2="512.42" y2="380.00" stroke="#2e2e2e" stroke-width="0.7"/>
<text transform="translate(512.51,384.40) scale(1,1.1014448979591838)" x="0" y="2.06" font-size="5.748076923076923" font-weight="normal" text-anchor="middle" fill="#111"  stroke="#111" stroke-width="0.3" letter-spacing="0.183">0.8</text>
<line x1="392.70" y1="236.50" x2="395.70" y2="236.50" stroke="#2e2e2e" stroke-width="0.7"/>
<text transform="translate(392.08,236.80) scale(1,1.1014448979591838)" x="0" y="2.06" font-size="5.748076923076923" font-weight="normal" text-anchor="end" fill="#111"  stroke="#111" stroke-width="0.3" letter-spacing="0.183">1.0</text>
<line x1="540.50" y1="377.00" x2="540.50" y2="380.00" stroke="#2e2e2e" stroke-width="0.7"/>
<text transform="translate(540.59,384.40) scale(1,1.1014448979591838)" x="0" y="2.06" font-size="5.748076923076923" font-weight="normal" text-anchor="middle" fill="#111"  stroke="#111" stroke-width="0.3" letter-spacing="0.183">1.0</text>
<text transform="translate(375.50,302.85) rotate(-90) scale(1,1.05)" x="0" y="2.51" font-size="7" font-weight="normal" text-anchor="middle" fill="#111"  stroke="#111" stroke-width="0.15">Sensitivity</text>
<text transform="translate(470.50,396.60) scale(1,1.0)" x="0" y="2.61" font-size="7.3" font-weight="normal" text-anchor="middle" fill="#111"  stroke="#111" stroke-width="0.15">1 - Specificity</text>
<line x1="395.40" y1="423.50" x2="395.40" y2="572.35" stroke="#2e2e2e" stroke-width="1.5"/>
<line x1="394.65" y1="571.60" x2="545.60" y2="571.60" stroke="#2e2e2e" stroke-width="1.5"/>
<line x1="392.40" y1="571.60" x2="395.40" y2="571.60" stroke="#2e2e2e" stroke-width="0.7"/>
<text transform="translate(391.78,571.90) scale(1,1.1014448979591838)" x="0" y="2.06" font-size="5.748076923076923" font-weight="normal" text-anchor="end" fill="#111"  stroke="#111" stroke-width="0.3" letter-spacing="0.183">0.0</text>
<line x1="400.50" y1="571.60" x2="400.50" y2="574.60" stroke="#2e2e2e" stroke-width="0.7"/>
<text transform="translate(400.59,579.00) scale(1,1.1014448979591838)" x="0" y="2.06" font-size="5.748076923076923" font-weight="normal" text-anchor="middle" fill="#111"  stroke="#111" stroke-width="0.3" letter-spacing="0.183">0.0</text>
<line x1="392.40" y1="543.46" x2="395.40" y2="543.46" stroke="#2e2e2e" stroke-width="0.7"/>
<text transform="translate(391.78,543.76) scale(1,1.1014448979591838)" x="0" y="2.06" font-size="5.748076923076923" font-weight="normal" text-anchor="end" fill="#111"  stroke="#111" stroke-width="0.3" letter-spacing="0.183">0.2</text>
<line x1="428.64" y1="571.60" x2="428.64" y2="574.60" stroke="#2e2e2e" stroke-width="0.7"/>
<text transform="translate(428.73,579.00) scale(1,1.1014448979591838)" x="0" y="2.06" font-size="5.748076923076923" font-weight="normal" text-anchor="middle" fill="#111"  stroke="#111" stroke-width="0.3" letter-spacing="0.183">0.2</text>
<line x1="392.40" y1="515.32" x2="395.40" y2="515.32" stroke="#2e2e2e" stroke-width="0.7"/>
<text transform="translate(391.78,515.62) scale(1,1.1014448979591838)" x="0" y="2.06" font-size="5.748076923076923" font-weight="normal" text-anchor="end" fill="#111"  stroke="#111" stroke-width="0.3" letter-spacing="0.183">0.4</text>
<line x1="456.78" y1="571.60" x2="456.78" y2="574.60" stroke="#2e2e2e" stroke-width="0.7"/>
<text transform="translate(456.87,579.00) scale(1,1.1014448979591838)" x="0" y="2.06" font-size="5.748076923076923" font-weight="normal" text-anchor="middle" fill="#111"  stroke="#111" stroke-width="0.3" letter-spacing="0.183">0.4</text>
<line x1="392.40" y1="487.18" x2="395.40" y2="487.18" stroke="#2e2e2e" stroke-width="0.7"/>
<text transform="translate(391.78,487.48) scale(1,1.1014448979591838)" x="0" y="2.06" font-size="5.748076923076923" font-weight="normal" text-anchor="end" fill="#111"  stroke="#111" stroke-width="0.3" letter-spacing="0.183">0.6</text>
<line x1="484.92" y1="571.60" x2="484.92" y2="574.60" stroke="#2e2e2e" stroke-width="0.7"/>
<text transform="translate(485.01,579.00) scale(1,1.1014448979591838)" x="0" y="2.06" font-size="5.748076923076923" font-weight="normal" text-anchor="middle" fill="#111"  stroke="#111" stroke-width="0.3" letter-spacing="0.183">0.6</text>
<line x1="392.40" y1="459.04" x2="395.40" y2="459.04" stroke="#2e2e2e" stroke-width="0.7"/>
<text transform="translate(391.78,459.34) scale(1,1.1014448979591838)" x="0" y="2.06" font-size="5.748076923076923" font-weight="normal" text-anchor="end" fill="#111"  stroke="#111" stroke-width="0.3" letter-spacing="0.183">0.8</text>
<line x1="513.06" y1="571.60" x2="513.06" y2="574.60" stroke="#2e2e2e" stroke-width="0.7"/>
<text transform="translate(513.15,579.00) scale(1,1.1014448979591838)" x="0" y="2.06" font-size="5.748076923076923" font-weight="normal" text-anchor="middle" fill="#111"  stroke="#111" stroke-width="0.3" letter-spacing="0.183">0.8</text>
<line x1="392.40" y1="430.90" x2="395.40" y2="430.90" stroke="#2e2e2e" stroke-width="0.7"/>
<text transform="translate(391.78,431.20) scale(1,1.1014448979591838)" x="0" y="2.06" font-size="5.748076923076923" font-weight="normal" text-anchor="end" fill="#111"  stroke="#111" stroke-width="0.3" letter-spacing="0.183">1.0</text>
<line x1="541.20" y1="571.60" x2="541.20" y2="574.60" stroke="#2e2e2e" stroke-width="0.7"/>
<text transform="translate(541.29,579.00) scale(1,1.1014448979591838)" x="0" y="2.06" font-size="5.748076923076923" font-weight="normal" text-anchor="middle" fill="#111"  stroke="#111" stroke-width="0.3" letter-spacing="0.183">1.0</text>
<text transform="translate(375.50,497.35) rotate(-90) scale(1,1.05)" x="0" y="2.51" font-size="7" font-weight="normal" text-anchor="middle" fill="#111"  stroke="#111" stroke-width="0.15">Sensitivity</text>
<text transform="translate(470.50,591.20) scale(1,1.0)" x="0" y="2.61" font-size="7.3" font-weight="normal" text-anchor="middle" fill="#111"  stroke="#111" stroke-width="0.15">1 - Specificity</text>
<path d="M33,34.8 H78.7 V38.9 H94.5 V44.5 H103 V49.3 H124.9 V54.2 H140.9 V66.1 H146.7" fill="none" stroke="#ee4550" stroke-width="1.3" stroke-dasharray="1.4 2" stroke-opacity="1.0"/>
<path d="M33,34.8 H62.3 V39.6 H69 V45.6 H96 V52 H97.5 V56.5 H98.5 V69 H100 V74.4 H108.9 V79.4 H113 V84.4 H115.4 V88.9 H118.9 V92 H134.9 V98.5 H142 V112.5 H148" fill="none" stroke="#ee4550" stroke-width="1.2" stroke-dasharray="0.9 0.7" stroke-opacity="1.0"/>
<path d="M33,34.8 H35.1 V38.2 H40.2 V42.5 H42.4 V47.6 H45.3 V52.4 H62.4 V56.9 H80.2 V61.5 H93.5 V66.4 H94.5 V70.4 H100 V74.9 H102.5 V79.9 H112.9 V84.4 H115.4 V88.9 H118.9 V92.8 H128.9 V102.4 H134.4 V107.3 H134.9 V112.2 H137.6 V118.4 H147.5" fill="none" stroke="#ee4550" stroke-width="1.3" stroke-opacity="1.0"/>
<path d="M214.5,34.8 H227.2 V39.3 H243.9 V49.1 H250.2 V54.3 H275.8 V59.3 H280 V64.3 H284.6 V74.5 H297.6 V79.2 H316.4 V89.4 H323.1 V98.3 H328.9" fill="none" stroke="#2b2b2b" stroke-width="1.2" stroke-dasharray="0.9 0.7" stroke-opacity="1.0"/>
<path d="M214.5,34.8 V36.3 H216.2 V39.4 H221.8 V44.6 H260.1 V54.3 H276 V59.3 H278.4 V70.2 H281.3 V86.2 H290.4 V92 H294.3 V102.3 H296.9 V107.5 H301.3 V112.5 H306.4 V117.6 H310.7 V127.5 H318 V132.2 H323.1 V151.1 H328.5" fill="none" stroke="#2b2b2b" stroke-width="1.3" stroke-dasharray="1.4 2" stroke-opacity="1.0"/>
<path d="M214.5,34.8 H224 V39.1 H276.1 V44.3 H316.5 V50.1 H328.9" fill="none" stroke="#2b2b2b" stroke-width="1.25" stroke-opacity="1.0"/>
<path d="M33,226.7 H147.6" fill="none" stroke="#ee4550" stroke-width="1.3" stroke-dasharray="1.4 2" stroke-opacity="1.0"/>
<path d="M33,226.7 H98.2 V237.8 H112.3 V249.5 H114.9 V261.5 H141.7 V284.3 H148" fill="none" stroke="#ee4550" stroke-width="1.2" stroke-dasharray="0.9 0.7" stroke-opacity="1.0"/>
<path d="M33,226.7 H34.2 V235.5 H40 V245.4 H93.5 V254.3 H100.4 V264.5 H102.5 V273.4 H112.7 V282.8 H129.1 V292.4 H137.5 V301.6 H147.6" fill="none" stroke="#ee4550" stroke-width="1.3" stroke-opacity="1.0"/>
<path d="M213.3,226.5 H282.8 V237.9 H327.7" fill="none" stroke="#2b2b2b" stroke-width="1.2" stroke-dasharray="0.9 0.7" stroke-opacity="1.0"/>
<path d="M213.3,226.5 H214.7 V235.1 H219.9 V246.2 H273.3 V255.7 H278.5 V276.9 H292.7 V296.5 H295.6 V306 H308.8 V316.6 H317.5 V330.8 H321.2 V352.5 H327.9" fill="none" stroke="#2b2b2b" stroke-width="1.3" stroke-dasharray="1.4 2" stroke-opacity="1.0"/>
<path d="M213.3,226.5 H327.7" fill="none" stroke="#2b2b2b" stroke-width="1.25" stroke-opacity="1.0"/>
<path d="M33,421.7 H78.7 V431.5 H94 V440.4 H103.1 V449.6 H124.5 V459 H141.2 V478.5 H146" fill="none" stroke="#ee4550" stroke-width="1.3" stroke-dasharray="1.4 2" stroke-opacity="1.0"/>
<path d="M33,421.7 H62.3 V433 H69 V444.8 H96.1 V466.5 H98.7 V478.9 H100.5 V491 H108.6 V502.5 H134.4 V516.4 H147.5" fill="none" stroke="#ee4550" stroke-width="1.2" stroke-dasharray="0.9 0.7" stroke-opacity="1.0"/>
<path d="M33,421.7 H41.9 V430.4 H45.3 V439.4 H62.3 V448.3 H80.6 V457.2 H95.1 V466.3 H115.9 V474.5 H119.1 V483.2 H129.2 V492.4 H134.4 V514.5 H147.5" fill="none" stroke="#ee4550" stroke-width="1.3" stroke-opacity="1.0"/>
<path d="M213.3,421.6 H225.7 V430.6 H242.3 V448.2 H249 V457.2 H275.2 V464.9 H278.8 V474.8 H283.3 V483.5 H296 V492.5 H314.6 V510.3 H321.4 V531.2 H325.8" fill="none" stroke="#2b2b2b" stroke-width="1.2" stroke-dasharray="0.9 0.7" stroke-opacity="1.0"/>
<path d="M213.3,421.6 H258.7 V442.9 H276 V464.9 H279.5 V475.1 H288.3 V486 H299.1 V496.5 H304.2 V506.7 H309.3 V518.2 H320.7" fill="none" stroke="#2b2b2b" stroke-width="1.3" stroke-dasharray="1.4 2" stroke-opacity="1.0"/>
<path d="M213.3,421.6 H222.8 V431.5 H274.7 V441.6 H315.2 V453.3 H327.5" fill="none" stroke="#2b2b2b" stroke-width="1.25" stroke-opacity="1.0"/>
<path d="M399.5,185.2 V173.5 H402.4 V165.4 H404.6 V161.3 H407.7 V145.3 H410.6 V141.3 H412.5 V133.3 H417.5 V125.4 H420.5 V108.5 H422 V104 H424 V100 H426 V97 H428.5 V93.2 H448.9 V81.5 H451.1 V77.2 H459.1 V72.8 H464.4 V64.8 H467.3 V61.2 H469.5 V56.8 H472.4 V52.7 H529.5 V48.8 H537.8 V44.4 H540.4" fill="none" stroke="#2b2b2b" stroke-width="1.15" stroke-opacity="1.0"/>
<path d="M399.5,185.2 V173.5 H402.4 V157.4 H404.6 L407.7,155.1 L410.3,152.9 V144.5 L412.5,141.3 H417.5 L426,131.9 L431,123.9 L435.4,113.9 L440.5,101.3 L456.9,96.8 L472.4,73.1 L477.5,53.2 L509.3,44.4 H540.4" fill="none" stroke="#ee4550" stroke-width="1.1" stroke-opacity="1.0"/>
<path d="M400.1,377 V306.9 H404.5 V295.5 H413.6 V248.3 H422.7 V236.5 H540.8" fill="none" stroke="#2b2b2b" stroke-width="1.15" stroke-opacity="1.0"/>
<path d="M400.1,377 V365.4 H404.5 V341.8 H413.2 L422.8,329.9 L427.2,308.1 L432.4,295 L436.5,282.8 L454,271.9 L463.8,259.5 H472.5 L476.9,236.5 H540.8" fill="none" stroke="#ee4550" stroke-width="1.1" stroke-opacity="1.0"/>
<path d="M400.5,571.6 V565.5 H412.9 V558.9 H418.3 V534.7 H431 V510.3 H436.9 V503.8 H461.6 V479.8 H467.4 V449.2 H473.7 V442.6 H541.4 V430.9" fill="none" stroke="#2b2b2b" stroke-width="1.15" stroke-opacity="1.0"/>
<path d="M400.5,571.6 V534.7 H418.3 V528.4 L424.9,522.3 H431.4 L443.4,510.3 V503.8 L449.3,497.9 V491.8 H461.6 L473.7,473.7 L474,448.7 L480,442.6 L492.1,436.6 L510.3,430.9 H541.4" fill="none" stroke="#ee4550" stroke-width="1.1" stroke-opacity="1.0"/>
<text transform="translate(39.80,143.70) scale(1,1.14)" x="0" y="2.15" font-size="6" font-weight="bold" text-anchor="start" fill="#111"  stroke="#111" stroke-width="0.3">C14</text>
<path d="M39.70,156.20 H43.90 V153.30 H48.60 V155.30" fill="none" stroke="#ee4550" stroke-width="1.25" stroke-dasharray="1.4 2" stroke-opacity="1.0"/>
<text transform="translate(50.20,154.70) scale(1,1.1014448979591838)" x="0" y="2.29" font-size="6.407692307692307" font-weight="normal" text-anchor="start" fill="#111"  stroke="#111" stroke-width="0.3" letter-spacing="0.204">L</text>
<path d="M39.70,164.80 H43.90 V161.90 H48.60 V163.90" fill="none" stroke="#ee4550" stroke-width="1.25" stroke-dasharray="0.9 0.7" stroke-opacity="1.0"/>
<text transform="translate(50.20,163.30) scale(1,1.1014448979591838)" x="0" y="2.29" font-size="6.407692307692307" font-weight="normal" text-anchor="start" fill="#111"  stroke="#111" stroke-width="0.3" letter-spacing="0.204">M</text>
<path d="M39.70,173.30 H43.90 V170.40 H48.60 V172.40" fill="none" stroke="#ee4550" stroke-width="1.45" stroke-opacity="1.0"/>
<text transform="translate(50.20,171.80) scale(1,1.1014448979591838)" x="0" y="2.29" font-size="6.407692307692307" font-weight="normal" text-anchor="start" fill="#111"  stroke="#111" stroke-width="0.3" letter-spacing="0.204">H</text>
<text transform="translate(66.00,163.40) scale(1,1.1014448979591838)" x="0" y="2.09" font-size="5.842307692307692" font-weight="normal" text-anchor="start" fill="#111"  stroke="#111" stroke-width="0.3" letter-spacing="0.186">Log Rank=9.516, p=0.009</text>
<text transform="translate(218.50,143.70) scale(1,1.14)" x="0" y="2.15" font-size="6" font-weight="bold" text-anchor="start" fill="#111"  stroke="#111" stroke-width="0.3">PCaa C38:6</text>
<path d="M222.00,156.10 H226.20 V153.20 H230.90 V155.20" fill="none" stroke="#2b2b2b" stroke-width="1.25" stroke-dasharray="0.9 0.7" stroke-opacity="1.0"/>
<text transform="translate(232.00,154.60) scale(1,1.1014448979591838)" x="0" y="2.29" font-size="6.407692307692307" font-weight="normal" text-anchor="start" fill="#111"  stroke="#111" stroke-width="0.3" letter-spacing="0.204">L</text>
<path d="M222.00,164.90 H226.20 V162.00 H230.90 V164.00" fill="none" stroke="#2b2b2b" stroke-width="1.25" stroke-dasharray="1.4 2" stroke-opacity="1.0"/>
<text transform="translate(232.00,163.40) scale(1,1.1014448979591838)" x="0" y="2.29" font-size="6.407692307692307" font-weight="normal" text-anchor="start" fill="#111"  stroke="#111" stroke-width="0.3" letter-spacing="0.204">M</text>
<path d="M222.00,173.50 H226.20 V170.60 H230.90 V172.60" fill="none" stroke="#2b2b2b" stroke-width="1.45" stroke-opacity="1.0"/>
<text transform="translate(232.00,172.00) scale(1,1.1014448979591838)" x="0" y="2.29" font-size="6.407692307692307" font-weight="normal" text-anchor="start" fill="#111"  stroke="#111" stroke-width="0.3" letter-spacing="0.204">H</text>
<text transform="translate(244.30,163.40) scale(1,1.1014448979591838)" x="0" y="2.07" font-size="5.795192307692308" font-weight="normal" text-anchor="start" fill="#111"  stroke="#111" stroke-width="0.3" letter-spacing="0.184">Log Rank=21.795, p&lt;0.0001</text>
<text transform="translate(36.80,324.20) scale(1,1.1014448979591838)" x="0" y="2.16" font-size="6.030769230769231" font-weight="normal" text-anchor="start" fill="#111"  stroke="#111" stroke-width="0.3" letter-spacing="0.192">Non-HTN</text>
<text transform="translate(39.50,335.90) scale(1,1.14)" x="0" y="2.15" font-size="6" font-weight="bold" text-anchor="start" fill="#111"  stroke="#111" stroke-width="0.3">C14</text>
<path d="M39.70,347.80 H43.90 V344.90 H48.60 V346.90" fill="none" stroke="#ee4550" stroke-width="1.25" stroke-dasharray="1.4 2" stroke-opacity="1.0"/>
<text transform="translate(50.20,346.30) scale(1,1.1014448979591838)" x="0" y="2.29" font-size="6.407692307692307" font-weight="normal" text-anchor="start" fill="#111"  stroke="#111" stroke-width="0.3" letter-spacing="0.204">L</text>
<path d="M39.70,356.80 H43.90 V353.90 H48.60 V355.90" fill="none" stroke="#ee4550" stroke-width="1.25" stroke-dasharray="0.9 0.7" stroke-opacity="1.0"/>
<text transform="translate(50.20,355.30) scale(1,1.1014448979591838)" x="0" y="2.29" font-size="6.407692307692307" font-weight="normal" text-anchor="start" fill="#111"  stroke="#111" stroke-width="0.3" letter-spacing="0.204">M</text>
<path d="M39.70,365.70 H43.90 V362.80 H48.60 V364.80" fill="none" stroke="#ee4550" stroke-width="1.45" stroke-opacity="1.0"/>
<text transform="translate(50.20,364.20) scale(1,1.1014448979591838)" x="0" y="2.29" font-size="6.407692307692307" font-weight="normal" text-anchor="start" fill="#111"  stroke="#111" stroke-width="0.3" letter-spacing="0.204">H</text>
<text transform="translate(64.90,356.40) scale(1,1.1014448979591838)" x="0" y="2.09" font-size="5.842307692307692" font-weight="normal" text-anchor="start" fill="#111"  stroke="#111" stroke-width="0.3" letter-spacing="0.186">Log Rank=8.587, p=0.014</text>
<text transform="translate(215.60,324.20) scale(1,1.1014448979591838)" x="0" y="2.16" font-size="6.030769230769231" font-weight="normal" text-anchor="start" fill="#111"  stroke="#111" stroke-width="0.3" letter-spacing="0.192">Non-HTN</text>
<text transform="translate(218.70,336.00) scale(1,1.14)" x="0" y="2.15" font-size="6" font-weight="bold" text-anchor="start" fill="#111"  stroke="#111" stroke-width="0.3">PCaa C38:6</text>
<path d="M222.00,348.10 H226.20 V345.20 H230.90 V347.20" fill="none" stroke="#2b2b2b" stroke-width="1.25" stroke-dasharray="0.9 0.7" stroke-opacity="1.0"/>
<text transform="translate(232.00,346.60) scale(1,1.1014448979591838)" x="0" y="2.29" font-size="6.407692307692307" font-weight="normal" text-anchor="start" fill="#111"  stroke="#111" stroke-width="0.3" letter-spacing="0.204">L</text>
<path d="M222.00,356.40 H226.20 V353.50 H230.90 V355.50" fill="none" stroke="#2b2b2b" stroke-width="1.25" stroke-dasharray="1.4 2" stroke-opacity="1.0"/>
<text transform="translate(232.00,354.90) scale(1,1.1014448979591838)" x="0" y="2.29" font-size="6.407692307692307" font-weight="normal" text-anchor="start" fill="#111"  stroke="#111" stroke-width="0.3" letter-spacing="0.204">M</text>
<path d="M222.00,365.90 H226.20 V363.00 H230.90 V365.00" fill="none" stroke="#2b2b2b" stroke-width="1.45" stroke-opacity="1.0"/>
<text transform="translate(232.00,364.40) scale(1,1.1014448979591838)" x="0" y="2.29" font-size="6.407692307692307" font-weight="normal" text-anchor="start" fill="#111"  stroke="#111" stroke-width="0.3" letter-spacing="0.204">H</text>
<text transform="translate(240.90,354.60) scale(1,1.1014448979591838)" x="0" y="2.07" font-size="5.795192307692308" font-weight="normal" text-anchor="start" fill="#111"  stroke="#111" stroke-width="0.3" letter-spacing="0.184">Log Rank=27.843, p&lt;0.0001</text>
<text transform="translate(43.10,519.10) scale(1,1.1014448979591838)" x="0" y="2.13" font-size="5.936538461538461" font-weight="normal" text-anchor="start" fill="#111"  stroke="#111" stroke-width="0.3" letter-spacing="0.189">HTN</text>
<text transform="translate(39.50,531.40) scale(1,1.14)" x="0" y="2.15" font-size="6" font-weight="bold" text-anchor="start" fill="#111"  stroke="#111" stroke-width="0.3">C14</text>
<path d="M39.70,543.20 H43.90 V540.30 H48.60 V542.30" fill="none" stroke="#ee4550" stroke-width="1.25" stroke-dasharray="1.4 2" stroke-opacity="1.0"/>
<text transform="translate(50.20,541.70) scale(1,1.1014448979591838)" x="0" y="2.29" font-size="6.407692307692307" font-weight="normal" text-anchor="start" fill="#111"  stroke="#111" stroke-width="0.3" letter-spacing="0.204">L</text>
<path d="M39.70,551.90 H43.90 V549.00 H48.60 V551.00" fill="none" stroke="#ee4550" stroke-width="1.25" stroke-dasharray="0.9 0.7" stroke-opacity="1.0"/>
<text transform="translate(50.20,550.40) scale(1,1.1014448979591838)" x="0" y="2.29" font-size="6.407692307692307" font-weight="normal" text-anchor="start" fill="#111"  stroke="#111" stroke-width="0.3" letter-spacing="0.204">M</text>
<path d="M39.70,560.50 H43.90 V557.60 H48.60 V559.60" fill="none" stroke="#ee4550" stroke-width="1.45" stroke-opacity="1.0"/>
<text transform="translate(50.20,559.00) scale(1,1.1014448979591838)" x="0" y="2.29" font-size="6.407692307692307" font-weight="normal" text-anchor="start" fill="#111"  stroke="#111" stroke-width="0.3" letter-spacing="0.204">H</text>
<text transform="translate(66.00,550.40) scale(1,1.1014448979591838)" x="0" y="2.09" font-size="5.842307692307692" font-weight="normal" text-anchor="start" fill="#111"  stroke="#111" stroke-width="0.3" letter-spacing="0.186">Log Rank=3.849, p=0.146</text>
<text transform="translate(222.40,519.00) scale(1,1.1014448979591838)" x="0" y="2.13" font-size="5.936538461538461" font-weight="normal" text-anchor="start" fill="#111"  stroke="#111" stroke-width="0.3" letter-spacing="0.189">HTN</text>
<text transform="translate(218.30,530.50) scale(1,1.14)" x="0" y="2.15" font-size="6" font-weight="bold" text-anchor="start" fill="#111"  stroke="#111" stroke-width="0.3">PCaa C38:6</text>
<path d="M222.00,544.20 H226.20 V541.30 H230.90 V543.30" fill="none" stroke="#2b2b2b" stroke-width="1.25" stroke-dasharray="0.9 0.7" stroke-opacity="1.0"/>
<text transform="translate(232.00,542.70) scale(1,1.1014448979591838)" x="0" y="2.29" font-size="6.407692307692307" font-weight="normal" text-anchor="start" fill="#111"  stroke="#111" stroke-width="0.3" letter-spacing="0.204">L</text>
<path d="M222.00,552.80 H226.20 V549.90 H230.90 V551.90" fill="none" stroke="#2b2b2b" stroke-width="1.25" stroke-dasharray="1.4 2" stroke-opacity="1.0"/>
<text transform="translate(232.00,551.30) scale(1,1.1014448979591838)" x="0" y="2.29" font-size="6.407692307692307" font-weight="normal" text-anchor="start" fill="#111"  stroke="#111" stroke-width="0.3" letter-spacing="0.204">M</text>
<path d="M222.00,561.20 H226.20 V558.30 H230.90 V560.30" fill="none" stroke="#2b2b2b" stroke-width="1.45" stroke-opacity="1.0"/>
<text transform="translate(232.00,559.70) scale(1,1.1014448979591838)" x="0" y="2.29" font-size="6.407692307692307" font-weight="normal" text-anchor="start" fill="#111"  stroke="#111" stroke-width="0.3" letter-spacing="0.204">H</text>
<text transform="translate(245.80,551.60) scale(1,1.1014448979591838)" x="0" y="2.09" font-size="5.842307692307692" font-weight="normal" text-anchor="start" fill="#111"  stroke="#111" stroke-width="0.3" letter-spacing="0.186">Log Rank=7.062, p=0.029</text>
<line x1="437.20" y1="155.30" x2="445.70" y2="155.30" stroke="#ee4550" stroke-width="1.3"/>
<text transform="translate(446.80,155.30) scale(1,1.1014448979591838)" x="0" y="1.89" font-size="5.276923076923077" font-weight="normal" text-anchor="start" fill="#111"  stroke="#111" stroke-width="0.3" letter-spacing="0.168">C14 (AUC 0.721, p&lt;0.001)</text>
<line x1="437.20" y1="163.30" x2="445.70" y2="163.30" stroke="#2b2b2b" stroke-width="1.3"/>
<text transform="translate(446.80,163.30) scale(1,1.1014448979591838)" x="0" y="1.89" font-size="5.276923076923077" font-weight="normal" text-anchor="start" fill="#111"  stroke="#111" stroke-width="0.3" letter-spacing="0.168">PCaa C38:6 (AUC 0.763, p&lt;0.001)</text>
<line x1="437.00" y1="348.10" x2="445.50" y2="348.10" stroke="#ee4550" stroke-width="1.3"/>
<text transform="translate(446.60,348.10) scale(1,1.1014448979591838)" x="0" y="1.89" font-size="5.276923076923077" font-weight="normal" text-anchor="start" fill="#111"  stroke="#111" stroke-width="0.3" letter-spacing="0.168">C14 (AUC 0.766, p&lt;0.001)</text>
<line x1="437.00" y1="356.20" x2="445.50" y2="356.20" stroke="#2b2b2b" stroke-width="1.3"/>
<text transform="translate(446.60,356.20) scale(1,1.1014448979591838)" x="0" y="1.89" font-size="5.276923076923077" font-weight="normal" text-anchor="start" fill="#111"  stroke="#111" stroke-width="0.3" letter-spacing="0.168">PCaa C38:6 (AUC 0.952, p&lt;0.001)</text>
<line x1="438.20" y1="541.30" x2="446.70" y2="541.30" stroke="#ee4550" stroke-width="1.3"/>
<text transform="translate(447.80,541.30) scale(1,1.1014448979591838)" x="0" y="1.89" font-size="5.276923076923077" font-weight="normal" text-anchor="start" fill="#111"  stroke="#111" stroke-width="0.3" letter-spacing="0.168">C14 (AUC 0.688, p&lt;0.001)</text>
<line x1="438.20" y1="549.50" x2="446.70" y2="549.50" stroke="#2b2b2b" stroke-width="1.3"/>
<text transform="translate(447.80,549.50) scale(1,1.1014448979591838)" x="0" y="1.89" font-size="5.276923076923077" font-weight="normal" text-anchor="start" fill="#111"  stroke="#111" stroke-width="0.3" letter-spacing="0.168">PCaa C38:6 (AUC 0.635, p&lt;0.001)</text>
</g></svg></body></html>
